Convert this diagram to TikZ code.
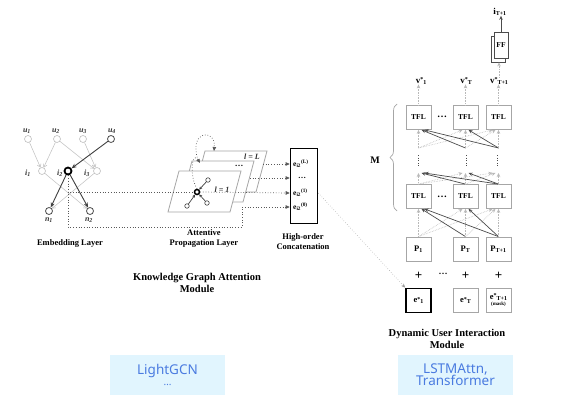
\documentclass[tikz,border=0pt]{standalone}
\usepackage{amsmath}
\usepackage{fontspec}
\setmainfont{Liberation Serif}
\newfontfamily\kofont{Noto Sans}
\usetikzlibrary{arrows.meta,decorations.pathreplacing,calc}
\definecolor{boxblue}{HTML}{E1F5FE}
\definecolor{txtblue}{HTML}{4A7BE0}
\newcommand\sbt[2]{#1\textsubscript{#2}}
\newcommand\eii[1]{e\textsubscript{i2}\textsuperscript{(#1)}}
\newcommand\stlab[2]{#1\raisebox{1.5pt}{\fontsize{6}{6}\selectfont*}\raisebox{-1pt}{\fontsize{6}{6}\selectfont#2}}
\tikzset{
  lc/.style={circle,draw=gray!50,line width=0.6pt,inner sep=0pt,minimum size=7pt,fill=white},
  dc/.style={circle,draw=black!70,line width=0.8pt,inner sep=0pt,minimum size=7pt,fill=white},
  hc/.style={circle,draw=black,line width=1.8pt,inner sep=0pt,minimum size=7pt,fill=white},
  sc/.style={circle,draw=black!75,line width=0.6pt,inner sep=0pt,minimum size=4.5pt,fill=white},
  nl/.style={font=\bfseries\itshape\fontsize{8}{9}\selectfont,text=black!80,inner sep=0pt},
  la/.style={draw=gray!50,line width=0.5pt,-{Straight Barb[length=3pt,width=4pt]}},
  da/.style={draw=black!75,line width=0.9pt,-{Stealth[length=5pt,width=4pt]}},
  dl/.style={draw=black!65,line width=0.7pt,dotted},
  darr/.style={dl,-{Triangle[length=4pt,width=3.5pt]}},
  plane/.style={draw=gray!70,line width=0.8pt,fill=white},
  lab/.style={font=\bfseries\fontsize{8.5}{10}\selectfont,align=center,inner sep=0pt},
  big/.style={font=\bfseries\fontsize{10.5}{12}\selectfont,align=center,inner sep=0pt},
  rb/.style={draw=gray!70,line width=0.8pt,fill=white,minimum width=25pt,minimum height=24pt,inner sep=0pt,font=\bfseries\fontsize{7.5}{8}\selectfont},
  rt/.style={font=\bfseries\fontsize{8}{8}\selectfont,inner sep=0pt},
  plus/.style={font=\bfseries\fontsize{13}{13}\selectfont,inner sep=0pt},
  lightattn/.style={draw=gray!55,line width=0.6pt,densely dotted,-{Stealth[length=4pt,width=3.5pt]}},
  darkattn/.style={draw=black!70,line width=0.7pt,-{Stealth[length=4pt,width=3.5pt]}},
  bluebox/.style={fill=boxblue,minimum width=115pt,minimum height=40pt,text=txtblue,align=center,font=\kofont\fontsize{13.5}{15}\selectfont,inner sep=0pt}
}
\begin{document}
\begin{tikzpicture}[x=1pt,y=-1pt]
\useasboundingbox (0,0) rectangle (564,412);
\fill[white] (0,0) rectangle (564,412);

% ---------------- Embedding layer ----------------
\node[lc] (u1) at (28,139) {};
\node[lc] (u2) at (57,139) {};
\node[lc] (u3) at (83,139) {};
\node[dc] (u4) at (111,139) {};
\node[lc] (i1) at (42,171) {};
\node[hc] (i2) at (68,171) {};
\node[lc] (i3) at (97,171) {};
\node[dc] (n1) at (49,211) {};
\node[dc] (n2) at (90,211) {};
\node[nl] (lu1) at (27,131) {\sbt{u}{1}};
\node[nl] (lu2) at (56,131) {\sbt{u}{2}};
\node[nl] (lu3) at (83,131) {\sbt{u}{3}};
\node[nl] (lu4) at (112,131) {\sbt{u}{4}};
\node[nl] (li1) at (28,173) {\sbt{i}{1}};
\node[nl] (li2) at (60,173) {\sbt{i}{2}};
\node[nl] (li3) at (87,173) {\sbt{i}{3}};
\node[nl] (ln1) at (49,220) {\sbt{n}{1}};
\node[nl] (ln2) at (89,220) {\sbt{n}{2}};
\draw[la] (u1) -- (i1);
\draw[la] (u2) -- (i1);
\draw[la] (u2) -- (i3);
\draw[la] (u3) -- (i3);
\draw[la] (i1) -- (n2);
\draw[la] (i3) -- (n1);
\draw[da] (u4) -- (i2);
\draw[da] (i2) -- (n1);
\draw[da] (i2) -- (n2);
\node[lab] (emb) at (70,243) {Embedding Layer};

% ---------------- Propagation planes ----------------
\draw[plane] (194,192) -- (256,192) -- (267,151) -- (205,151) -- cycle;
\draw[plane] (181,202) -- (243,202) -- (254,161) -- (192,161) -- cycle;
\draw[plane] (168,212) -- (230,212) -- (241,171) -- (179,171) -- cycle;
\node[nl] (lL) at (252,157) {l = L};
\node[lab] (ldots) at (239,166) {\ldots};
\node[nl] (l1) at (222,190) {l = 1};
\node[hc,minimum size=5pt,line width=1.5pt] (hub) at (197,192) {};
\node[sc] (s1) at (208,180) {};
\node[sc] (s2) at (207,203) {};
\node[sc] (s3) at (187,206) {};
\draw[black!75,line width=0.7pt,-{Stealth[length=3pt,width=3pt]}] (s1) -- (hub);
\draw[black!75,line width=0.7pt,-{Stealth[length=3pt,width=3pt]}] (s2) -- (hub);
\draw[black!75,line width=0.7pt,-{Stealth[length=3pt,width=3pt]}] (s3) -- (hub);
\draw[darr] (hub.north) .. controls (189,176) and (192,150) .. (200,163);
\draw[darr] (198,160) .. controls (188,130) and (216,128) .. (214,151);
\node[lab] (apl) at (204,238) {Attentive\\Propagation Layer};

% ---------------- Concatenation ----------------
\node[draw=black,line width=1.6pt,minimum width=27pt,minimum height=75pt,inner sep=0pt] (cbox) at (304,186) {};
\node[rt,anchor=west,font=\bfseries\fontsize{7.5}{7.5}\selectfont] (eL) at (293,164) {\eii{L}};
\node[rt] (ed) at (302,178) {\ldots};
\node[rt,anchor=west,font=\bfseries\fontsize{7.5}{7.5}\selectfont] (e1) at (293,193) {\eii{1}};
\node[rt,anchor=west,font=\bfseries\fontsize{7.5}{7.5}\selectfont] (e0) at (293,207) {\eii{0}};
\node[lab] (hoc) at (303,242) {High-order\\Concatenation};

\draw[dl] (i2.south) |- (hub.west);
\draw[darr] (hub.east) -- (cbox.west |- e1);
\draw[darr] (i2.south) |- (242,227) |- (cbox.west |- e0);
\draw[darr] (263,164) -- (cbox.west |- eL);
\draw[darr] (250,178) -- (cbox.west |- ed);

\node[big] (kga) at (197,283) {Knowledge Graph Attention\\Module};

% ---------------- Right panel ----------------
\node[rb,line width=1.8pt,draw=black,font=\bfseries\fontsize{8.5}{9}\selectfont] (es1) at (418.5,300.5) {\stlab{e}{1}};
\node[rb,font=\bfseries\fontsize{8.5}{9}\selectfont] (es2) at (465.5,300.5) {\stlab{e}{T}};
\node[rb,align=center,font=\bfseries\fontsize{8.5}{9}\selectfont] (es3) at (498.5,300.5) {\stlab{e}{T+1}\\[-2.5pt]{\fontsize{5}{5}\selectfont(mask)}};
\node[plus] (pl1) at (418.5,276) {+};
\node[plus] (pl2) at (465.5,276) {+};
\node[plus] (pl3) at (498.5,276) {+};
\node[rt,font=\bfseries\fontsize{9}{9}\selectfont] (pld) at (443,274) {\ldots};

\node[rb,font=\bfseries\fontsize{8.5}{9}\selectfont] (p1) at (418.5,249) {\sbt{P}{1}};
\node[rb,font=\bfseries\fontsize{8.5}{9}\selectfont] (p2) at (465.5,249) {\sbt{P}{T}};
\node[rb,font=\bfseries\fontsize{8.5}{9}\selectfont] (p3) at (498.5,249) {\sbt{P}{T+1}};

\node[rb] (b1) at (418.5,196.5) {TFL};
\node[rb] (b2) at (465.5,196.5) {TFL};
\node[rb] (b3) at (498.5,196.5) {TFL};
\node[rt,font=\bfseries\fontsize{10}{10}\selectfont] (bd) at (442,197) {\ldots};

\node[rb] (t1) at (418.5,117.5) {TFL};
\node[rb] (t2) at (465.5,117.5) {TFL};
\node[rb] (t3) at (498.5,117.5) {TFL};
\node[rt,font=\bfseries\fontsize{10}{10}\selectfont] (td) at (442,117) {\ldots};

\coordinate (ml1) at (418.5,173);
\coordinate (ml2) at (465.5,173);
\coordinate (ml3) at (498.5,173);
\coordinate (mu1) at (418.5,148);
\coordinate (mu2) at (465.5,148);
\coordinate (mu3) at (498.5,148);
\foreach \x in {418.5,466.5,497.5}{
  \draw[black!70,line width=1.3pt,dash pattern=on 1pt off 1.6pt] (\x,155) -- (\x,167);
}

\foreach \i in {1,2,3}{
  \foreach \j in {1,2,3}{
    \pgfmathtruncatemacro\off{(\i-\j)*3}
    \ifnum\i>\j
      \draw[darkattn] (p\i.north) -- ([xshift=\off pt]b\j.south);
      \draw[darkattn] (b\i.north) -- ([xshift=\off pt]ml\j);
      \draw[darkattn] (mu\i) -- ([xshift=\off pt]t\j.south);
    \else
      \draw[lightattn] (p\i.north) -- ([xshift=\off pt]b\j.south);
      \draw[lightattn] (b\i.north) -- ([xshift=\off pt]ml\j);
      \draw[lightattn] (mu\i) -- ([xshift=\off pt]t\j.south);
    \fi
  }
}

\node[rt,font=\bfseries\fontsize{9}{9}\selectfont] (v1) at (421,81) {\stlab{v}{1}};
\node[rt,font=\bfseries\fontsize{9}{9}\selectfont] (v2) at (466,81) {\stlab{v}{T}};
\node[rt,font=\bfseries\fontsize{9}{9}\selectfont] (v3) at (499,81) {\stlab{v}{T+1}};
\draw[lightattn] (t1.north) -- (t1.north |- v1.south);
\draw[lightattn] (t2.north) -- (t2.north |- v2.south);
\draw[lightattn] (t3.north) -- (t3.north |- v3.south);

\node[draw=black!70,line width=0.8pt,fill=white,minimum width=14pt,minimum height=26pt,inner sep=0pt] (ffb) at (498,49) {};
\node[draw=black!70,line width=0.8pt,fill=white,minimum width=14pt,minimum height=26pt,inner sep=0pt,font=\bfseries\fontsize{7.5}{8}\selectfont] (ff) at (501,45) {FF};
\draw[lightattn] (v3.north) -- (v3.north |- ffb.south);
\node[rt,font=\bfseries\fontsize{9}{9}\selectfont] (iT) at (500,12) {\sbt{i}{T+1}};
\draw[darkattn] (ff.north) -- (ff.north |- iT.south);

\draw[gray!70,line width=0.7pt,decorate,decoration={brace,amplitude=7pt}] (397,211) -- (397,104);
\node[font=\bfseries\fontsize{10}{11}\selectfont,inner sep=0pt] (M) at (375,160) {M};

\draw[gray!80,line width=0.5pt,dotted,-{Stealth[length=4pt,width=3.5pt]}] (cbox.east |- e1) -- (es1.north west);

\node[big] (dui) at (447,339) {Dynamic User Interaction\\Module};

% ---------------- Blue boxes ----------------
\node[bluebox] (lgcn) at (167.5,375) {LightGCN\\[-4pt]{\fontsize{10}{10}\selectfont \ldots}};
\node[bluebox] (lstm) at (455.5,375) {LSTMAttn,\\[-3pt]Transformer};
\end{tikzpicture}
\end{document}
